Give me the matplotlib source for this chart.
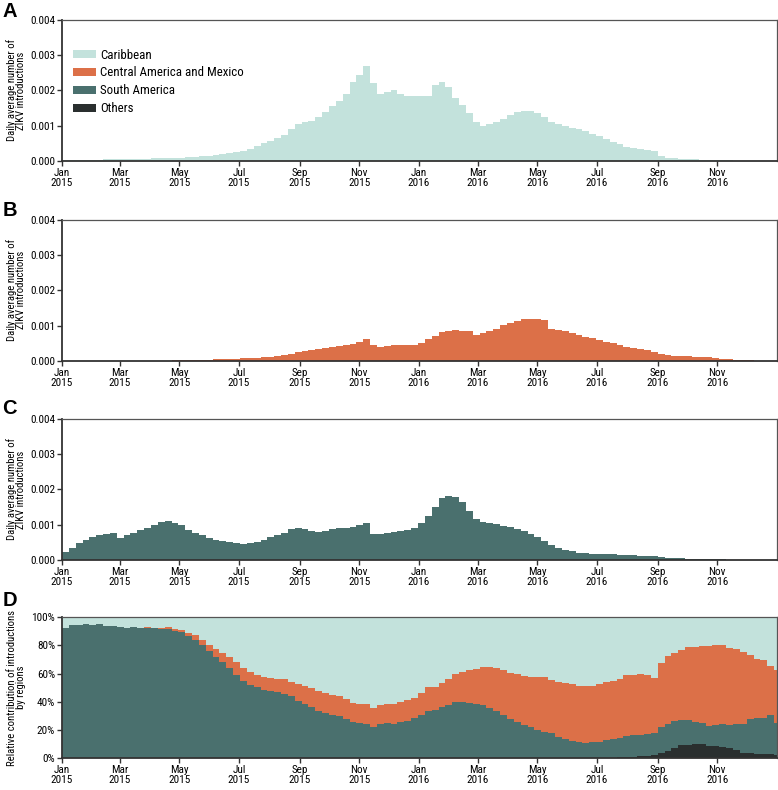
import numpy as np
import pandas as pd
import matplotlib
matplotlib.use("Agg")
import matplotlib.pyplot as plt
import matplotlib.dates as mdates
from matplotlib.ticker import FuncFormatter, FixedLocator
from matplotlib.patches import Patch

plt.rcParams['font.family'] = ['Roboto Condensed', 'Liberation Sans Narrow', 'Roboto', 'DejaVu Sans']

# Weekly values (units of 1e-4 daily average introductions), weeks starting 2015-01-01
week_start = pd.date_range("2015-01-01", periods=105, freq="7D")

caribbean = [0.2, 0.2, 0.3, 0.3, 0.4, 0.4, 0.5, 0.5, 0.5, 0.6,
             0.6, 0.7, 0.7, 0.8, 0.9, 0.9, 1.0, 1.0, 1.1, 1.2,
             1.4, 1.6, 1.8, 2.0, 2.3, 2.6, 3.0, 3.5, 4.2, 5.0,
             5.8, 6.5, 7.5, 9.0, 10.5, 11.0, 11.5, 12.5, 14.0, 15.5,
             17.0, 19.0, 22.5, 24.5, 27.0, 22.0, 19.0, 19.5, 20.0, 19.0,
             18.5, 18.5, 18.5, 18.5, 21.5, 22.5, 21.0, 18.0, 16.0, 13.5,
             11.0, 10.0, 10.5, 11.0, 12.0, 13.0, 13.8, 14.3, 14.3, 13.5,
             12.5, 11.0, 10.5, 10.0, 9.5, 9.0, 8.5, 7.8, 7.0, 6.2,
             5.5, 4.8, 3.9, 3.6, 3.3, 3.1, 2.9, 1.5, 1.0, 0.8,
             0.65, 0.55, 0.48, 0.42, 0.36, 0.3, 0.25, 0.2, 0.15, 0.12,
             0.09, 0.07, 0.06, 0.05, 0.05]

central_america = [0.0, 0.0, 0.0, 0.0, 0.0, 0.0, 0.0, 0.0, 0.0, 0.0,
                   0.0, 0.0, 0.05, 0.05, 0.1, 0.1, 0.15, 0.2, 0.25, 0.3,
                   0.3, 0.4, 0.45, 0.5, 0.6, 0.7, 0.75, 0.8, 0.9, 1.0,
                   1.2, 1.4, 1.7, 2.0, 2.6, 2.9, 3.1, 3.3, 3.6, 4.0,
                   4.3, 4.6, 4.9, 5.3, 6.3, 4.6, 4.0, 4.3, 4.6, 4.5,
                   4.5, 4.6, 5.2, 6.2, 7.2, 8.2, 8.6, 8.7, 8.6, 8.5,
                   7.4, 7.8, 8.5, 9.2, 10.2, 10.8, 11.4, 11.8, 12.0, 12.0,
                   11.5, 9.2, 8.8, 8.4, 7.9, 7.4, 6.9, 6.4, 6.0, 5.5,
                   5.0, 4.5, 4.1, 3.8, 3.5, 3.2, 2.6, 2.1, 1.7, 1.5,
                   1.4, 1.3, 1.2, 1.1, 1.0, 0.85, 0.7, 0.5, 0.35, 0.25,
                   0.15, 0.1, 0.08, 0.05, 0.05]

south_america = [2.3, 3.3, 4.8, 5.8, 6.6, 7.2, 7.5, 7.7, 6.3, 7.0,
                 7.8, 8.5, 9.2, 9.8, 10.8, 11.2, 10.5, 9.8, 8.5, 7.8,
                 7.0, 6.2, 5.7, 5.4, 5.2, 4.8, 4.5, 4.7, 5.2, 5.7,
                 6.4, 7.0, 7.8, 8.7, 9.0, 8.7, 8.3, 8.0, 8.3, 8.7,
                 9.0, 9.2, 9.5, 9.8, 10.6, 7.5, 7.5, 7.8, 8.0, 8.2,
                 8.4, 9.2, 10.5, 12.5, 15.0, 17.5, 18.2, 17.8, 16.5, 14.0,
                 11.5, 10.7, 10.4, 10.1, 9.7, 9.3, 8.8, 8.2, 7.4, 6.5,
                 5.5, 4.4, 3.5, 2.9, 2.5, 2.1, 1.9, 1.8, 1.7, 1.65,
                 1.6, 1.5, 1.4, 1.35, 1.25, 1.2, 1.05, 0.85, 0.7, 0.6,
                 0.5, 0.45, 0.35, 0.3, 0.25, 0.22, 0.2, 0.15, 0.12, 0.1,
                 0.08, 0.06, 0.05, 0.04, 0.03]

others = [0.0] * 75 + [0.02, 0.02, 0.03, 0.04, 0.05, 0.06, 0.07, 0.09, 0.1, 0.11,
                       0.12, 0.14, 0.16, 0.18, 0.22, 0.26, 0.25, 0.23, 0.2, 0.16,
                       0.13, 0.1, 0.07, 0.04, 0.02, 0.012, 0.008, 0.006, 0.004, 0.003]

labels = ["Caribbean", "Central America and Mexico", "South America", "Others"]
colors = ["#c3e2dc", "#dc7048", "#4a706e", "#2a2f2f"]

scale = 1e-4
car = np.array(caribbean) * scale
cam = np.array(central_america) * scale
sam = np.array(south_america) * scale
oth = np.array(others) * scale

x = mdates.date2num(week_start.to_pydatetime())
width = 7.0

fig = plt.figure(figsize=(7.78, 7.90), dpi=100)
left, w = 0.0797, 0.919
bottoms = [0.796, 0.543, 0.291, 0.040]
h = 0.179
axes = [fig.add_axes([left, b, w, h]) for b in bottoms]

xmin = mdates.date2num(pd.Timestamp("2015-01-01").to_pydatetime())
xmax = mdates.date2num(pd.Timestamp("2017-01-01").to_pydatetime())
tick_dates = pd.date_range("2015-01-01", "2016-11-01", freq="2MS")
tick_x = mdates.date2num(tick_dates.to_pydatetime())

FS = 8.1
LFS = 7.7

def style(ax):
    ax.set_xlim(xmin, xmax)
    ax.xaxis.set_major_locator(FixedLocator(tick_x))
    ax.set_xticklabels([d.strftime("%b\n%Y") for d in tick_dates], linespacing=0.95)
    ax.tick_params(axis='both', labelsize=FS, length=3.5, width=1, color="#333333", pad=1.5)
    for s in ["left", "bottom"]:
        ax.spines[s].set_color("#333333")
        ax.spines[s].set_linewidth(1.3)
    for s in ["top", "right"]:
        ax.spines[s].set_color("#555555")
        ax.spines[s].set_linewidth(0.9)
    ax.yaxis.set_label_coords(-0.050, 0.5)

series = [car, cam, sam]
for ax, vals, col in zip(axes[:3], series, colors[:3]):
    ax.bar(x, vals, width=width, align='edge', color=col, linewidth=0, antialiased=False)
    ax.set_ylim(0, 0.004)
    ax.set_yticks([0, 0.001, 0.002, 0.003, 0.004])
    ax.yaxis.set_major_formatter(FuncFormatter(lambda v, p: f"{v:.3f}"))
    ax.set_ylabel("Daily average number of\nZIKV introductions", fontsize=LFS, linespacing=0.9)
    style(ax)

# Panel D: relative contributions
total = car + cam + sam + oth
p_oth = oth / total * 100
p_sam = sam / total * 100
p_cam = cam / total * 100
p_car = car / total * 100
axd = axes[3]
b = np.zeros_like(total)
for vals, col in [(p_oth, colors[3]), (p_sam, colors[2]), (p_cam, colors[1]), (p_car, colors[0])]:
    axd.bar(x, vals, width=width, bottom=b, align='edge', color=col, linewidth=0, antialiased=False)
    b = b + vals
axd.set_ylim(0, 100)
axd.set_yticks([0, 20, 40, 60, 80, 100])
axd.yaxis.set_major_formatter(FuncFormatter(lambda v, p: f"{v:.0f}%"))
axd.set_ylabel("Relative contribution of introductions\nby regions", fontsize=LFS, linespacing=0.9)
style(axd)

# Legend in panel A
handles = [Patch(facecolor=c, edgecolor='none', label=l) for c, l in zip(colors, labels)]
axes[0].legend(handles=handles, loc='upper left', bbox_to_anchor=(0.003, 0.86), frameon=False,
               fontsize=9.3, handlelength=1.75, handleheight=0.6, labelspacing=0.38,
               handletextpad=0.35, borderaxespad=0.3)

for ax, letter, yy in zip(axes, "ABCD", [0.998, 0.745, 0.495, 0.252]):
    fig.text(0.003, yy, letter, fontsize=14.5, fontweight='bold', va='top', ha='left',
             family=['Liberation Sans', 'DejaVu Sans'])

fig.savefig("out.png", dpi=100)
